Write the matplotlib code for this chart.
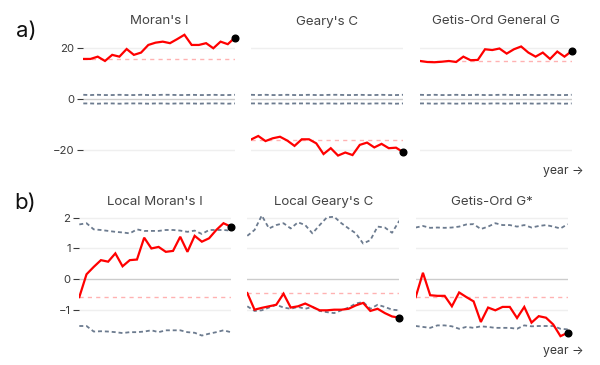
import matplotlib
matplotlib.use("Agg")
import matplotlib.pyplot as plt

plt.rcParams['font.family'] = ['Inter', 'DejaVu Sans']

years = list(range(2001, 2023))

# ---- a) global statistics (z-scores) ----
titles_a = ["Moran's I", "Geary's C", "Getis-Ord General G"]
moran = [15.8, 15.8, 16.7, 15.0, 17.4, 16.7, 19.7, 17.4, 18.3, 21.3, 22.2,
         22.6, 22.0, 23.6, 25.3, 21.3, 21.3, 22.0, 20.0, 22.6, 21.6, 24.2]
geary = [-15.9, -14.5, -16.5, -15.4, -14.8, -16.3, -18.4, -15.8, -15.8, -17.4, -21.6,
         -19.3, -22.2, -21.0, -22.0, -18.0, -17.1, -19.0, -17.6, -19.3, -19.1, -20.9]
getis = [15.0, 14.6, 14.5, 14.7, 15.0, 14.6, 16.7, 15.3, 15.4, 19.6, 19.3,
         19.9, 17.9, 19.6, 20.7, 18.3, 16.7, 18.3, 15.8, 18.7, 16.7, 18.9]
upper_a = [1.7, 1.6, 1.7, 1.6, 1.6, 1.7, 1.6, 1.6, 1.7, 1.6, 1.6,
           1.7, 1.7, 1.6, 1.6, 1.7, 1.6, 1.6, 1.7, 1.6, 1.6, 1.7]
lower_a = [-1.7, -1.7, -1.8, -1.7, -1.7, -1.8, -1.7, -1.7, -1.7, -1.8, -1.7,
           -1.7, -1.8, -1.7, -1.7, -1.7, -1.8, -1.7, -1.7, -1.7, -1.8, -1.7]
ticks_a = [20, 0, -20]

# ---- b) local statistics ----
titles_b = ["Local Moran's I", "Local Geary's C", "Getis-Ord G*"]
lmoran = [-0.58, 0.16, 0.40, 0.62, 0.57, 0.84, 0.42, 0.62, 0.64, 1.35, 1.00,
          1.05, 0.89, 0.92, 1.38, 0.89, 1.41, 1.22, 1.33, 1.60, 1.82, 1.71]
lmoran_hi = [1.78, 1.82, 1.62, 1.60, 1.57, 1.54, 1.52, 1.49, 1.62, 1.57, 1.57,
             1.57, 1.60, 1.60, 1.58, 1.54, 1.58, 1.47, 1.60, 1.60, 1.60, 1.58]
lmoran_lo = [-1.52, -1.52, -1.70, -1.69, -1.70, -1.72, -1.75, -1.72, -1.72, -1.70, -1.66,
             -1.72, -1.66, -1.66, -1.66, -1.72, -1.74, -1.83, -1.77, -1.72, -1.66, -1.72]
lgeary = [-0.45, -0.99, -0.93, -0.88, -0.83, -0.47, -0.92, -0.88, -0.79, -0.90, -1.01,
          -1.01, -0.99, -0.99, -0.96, -0.85, -0.77, -1.03, -0.96, -1.10, -1.21, -1.25]
lgeary_hi = [1.41, 1.60, 2.07, 1.65, 1.76, 1.82, 1.65, 1.85, 1.76, 1.49, 1.76,
             2.01, 2.03, 1.82, 1.65, 1.49, 1.16, 1.27, 1.71, 1.68, 1.51, 1.90]
lgeary_lo = [-0.88, -1.03, -1.01, -0.92, -0.83, -0.92, -0.96, -0.90, -0.96, -0.90, -1.03,
             -1.07, -1.10, -1.01, -0.92, -0.79, -0.74, -0.96, -0.83, -0.90, -0.99, -1.01]
gstar = [-0.58, 0.21, -0.52, -0.54, -0.54, -0.88, -0.43, -0.58, -0.72, -1.39, -0.92,
         -1.01, -0.90, -0.90, -1.26, -0.90, -1.41, -1.20, -1.25, -1.47, -1.85, -1.74]
gstar_hi = [1.68, 1.73, 1.67, 1.68, 1.67, 1.68, 1.71, 1.78, 1.79, 1.63, 1.71,
            1.82, 1.76, 1.76, 1.71, 1.76, 1.68, 1.73, 1.76, 1.71, 1.65, 1.79]
gstar_lo = [-1.52, -1.55, -1.58, -1.50, -1.50, -1.53, -1.61, -1.55, -1.58, -1.53, -1.55,
            -1.58, -1.58, -1.58, -1.61, -1.50, -1.53, -1.52, -1.52, -1.52, -1.61, -1.63]
ticks_b = [2, 1, 0, -1]

W, H = 600, 365
fig = plt.figure(figsize=(W / 100, H / 100), dpi=100)

def ax_px(x0, y0, x1, y1):
    return fig.add_axes([x0 / W, 1 - y1 / H, (x1 - x0) / W, (y1 - y0) / H])

SLATE = '#6c7b8f'
TXT = '#3a3a3a'

def panel(box, ylim, ticks, series, hi, lo, title, title_y, first_col):
    ax = ax_px(*box)
    ax.set_xlim(years[0], years[-1])
    ax.set_ylim(*ylim)
    for t in ticks:
        ax.axhline(t, color='#cccccc' if t == 0 else '#efefef', lw=1.0, zorder=0)
    ax.plot(years, hi, color=SLATE, lw=1.3, ls=(0, (2.2, 1.6)), zorder=2)
    ax.plot(years, lo, color=SLATE, lw=1.3, ls=(0, (2.2, 1.6)), zorder=2)
    ax.axhline(series[0], color='red', alpha=0.3, lw=1.0, ls=(0, (3, 3)), zorder=1)
    ax.plot(years, series, color='red', lw=1.6, zorder=3, solid_joinstyle='miter')
    ax.scatter([years[-1]], [series[-1]], s=23, color='black', zorder=5, clip_on=False)
    for s in ax.spines.values():
        s.set_visible(False)
    ax.set_xticks([])
    if first_col:
        ax.set_yticks(ticks)
        ax.set_yticklabels([f"{t}".replace('-', '\u2212') for t in ticks])
        ax.tick_params(axis='y', length=4.3, width=0.8, color=TXT, labelcolor=TXT,
                       labelsize=8.2, pad=2)
    else:
        ax.set_yticks([])
    ax.patch.set_alpha(0)
    cx = (box[0] + box[2]) / 2
    fig.text(cx / W, 1 - title_y / H, title, ha='center', va='center',
             fontsize=9.6, color='#444444')
    return ax

cols_a = [(83.3, 235.0), (251.0, 403.3), (420.0, 571.7)]
cols_b = [(79.3, 230.7), (247.3, 399.3), (415.7, 567.7)]

data_a = [moran, geary, getis]
for i, (x0, x1) in enumerate(cols_a):
    panel((x0, 33.0, x1, 157.6), (-23, 26), ticks_a, data_a[i], upper_a, lower_a,
          titles_a[i], 21.5, i == 0)

data_b = [(lmoran, lmoran_hi, lmoran_lo), (lgeary, lgeary_hi, lgeary_lo),
          (gstar, gstar_hi, gstar_lo)]
for i, (x0, x1) in enumerate(cols_b):
    s, hi, lo = data_b[i]
    panel((x0, 214.6, x1, 337.7), (-1.9, 2.1), ticks_b, s, hi, lo,
          titles_b[i], 202.0, i == 0)

fig.text(584 / W, 1 - 171 / H, "year \u2192", ha='right', va='center',
         fontsize=8.8, color=TXT)
fig.text(584 / W, 1 - 351 / H, "year \u2192", ha='right', va='center',
         fontsize=8.8, color=TXT)
fig.text(16 / W, 1 - 31 / H, "a)", ha='left', va='center', fontsize=16, color='#111111')
fig.text(14 / W, 1 - 203 / H, "b)", ha='left', va='center', fontsize=16, color='#111111')

fig.savefig("out.png", dpi=100)
